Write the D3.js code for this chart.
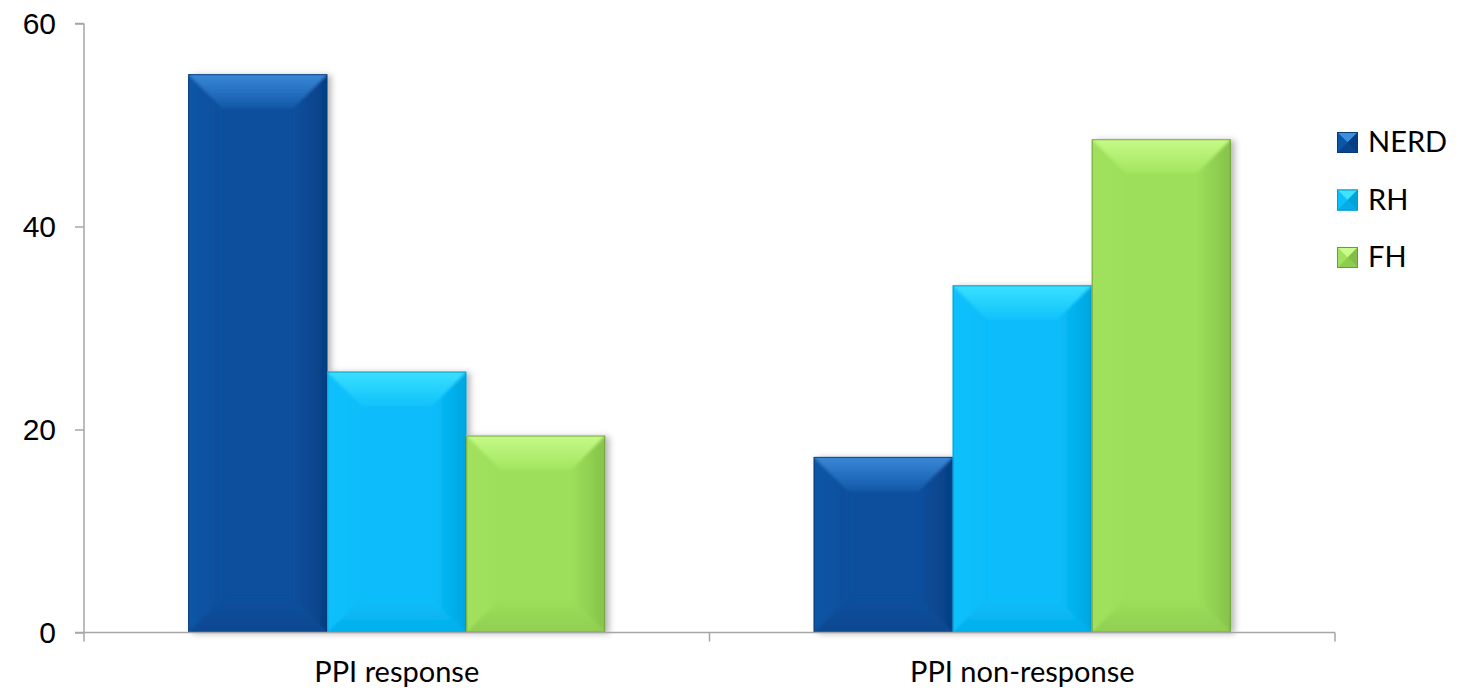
<!DOCTYPE html>
<html>
<head>
<meta charset="utf-8">
<script src="https://cdn.jsdelivr.net/npm/d3@7"></script>
<style>
  html, body { margin: 0; padding: 0; background: #fff; }
  svg { display: block; }
</style>
</head>
<body>
<svg id="chart" width="1468" height="690"></svg>
<script>
// Categories, series and values
const categories = ["PPI response", "PPI non-response"];
const seriesNames = ["NERD", "RH", "FH"];
const nerdValues = [55.0, 17.3];
const rhValues = [25.7, 34.2];
const fhValues = [19.4, 48.6];
const yTickValues = [0, 20, 40, 60];

const valuesBySeries = { NERD: nerdValues, RH: rhValues, FH: fhValues };

// Bevelled fill palette per series
const palette = {
  NERD: { main: "#0a4f9d", top: "#3f8ddc", topEnd: "#1259aa", left: "#0c56a7", right: "#053e82", bottom: "#08478f", stroke: "#0a3a72" },
  RH:   { main: "#08bdfb", top: "#3fe3ff", topEnd: "#10c3fb", left: "#0bc1fb", right: "#02a3db", bottom: "#05ade8", stroke: "#0a98c8" },
  FH:   { main: "#9ddf5a", top: "#c9fd8b", topEnd: "#a3e560", left: "#a1e15d", right: "#83bf48", bottom: "#8ecc4f", stroke: "#6c9a3b" }
};

const svg = d3.select("#chart");
const plot = { left: 84, right: 1335, top: 23.5, bottom: 632.5 };

const x0 = d3.scaleBand().domain(categories).range([plot.left, plot.right]).padding(0);
const x1 = d3.scaleBand().domain(seriesNames).range([0, x0.bandwidth()])
  .paddingInner(0).paddingOuter(0.75);
const y = d3.scaleLinear().domain([0, 60]).range([plot.bottom, plot.top]);

const defs = svg.append("defs");
const shadow = defs.append("filter").attr("id", "barShadow")
  .attr("x", "-20%").attr("y", "-20%").attr("width", "150%").attr("height", "140%");
shadow.append("feDropShadow").attr("dx", 4).attr("dy", 1)
  .attr("stdDeviation", 3).attr("flood-color", "#000").attr("flood-opacity", 0.28);
const soften = defs.append("filter").attr("id", "soften")
  .attr("x", "-10%").attr("y", "-10%").attr("width", "120%").attr("height", "120%");
soften.append("feGaussianBlur").attr("stdDeviation", 1.6);

seriesNames.forEach(s => {
  const c = palette[s];
  const gTop = defs.append("linearGradient").attr("id", "top-" + s)
    .attr("x1", 0).attr("y1", 0).attr("x2", 0).attr("y2", 1);
  gTop.append("stop").attr("offset", "0%").attr("stop-color", c.top);
  gTop.append("stop").attr("offset", "100%").attr("stop-color", c.topEnd);
  const gRight = defs.append("linearGradient").attr("id", "right-" + s)
    .attr("x1", 0).attr("y1", 0).attr("x2", 1).attr("y2", 0);
  gRight.append("stop").attr("offset", "0%").attr("stop-color", c.main);
  gRight.append("stop").attr("offset", "100%").attr("stop-color", c.right);
  const gLeft = defs.append("linearGradient").attr("id", "left-" + s)
    .attr("x1", 0).attr("y1", 0).attr("x2", 1).attr("y2", 0);
  gLeft.append("stop").attr("offset", "0%").attr("stop-color", c.left);
  gLeft.append("stop").attr("offset", "100%").attr("stop-color", c.main);
  const gBottom = defs.append("linearGradient").attr("id", "bottom-" + s)
    .attr("x1", 0).attr("y1", 0).attr("x2", 0).attr("y2", 1);
  gBottom.append("stop").attr("offset", "0%").attr("stop-color", c.main);
  gBottom.append("stop").attr("offset", "100%").attr("stop-color", c.bottom);
});

let clipCount = 0;
// Draws a bevelled box (rectangle with four sloped edge facets)
function bevelBox(g, s, x, yTop, w, h, bev) {
  const c = palette[s];
  const b = Math.min(bev, w / 2, h / 2);
  const x2 = x + w, y2 = yTop + h;
  const id = "barclip-" + (clipCount++);
  defs.append("clipPath").attr("id", id)
    .append("rect").attr("x", x).attr("y", yTop).attr("width", w).attr("height", h);
  const box = g.append("g");
  box.append("rect").attr("x", x).attr("y", yTop).attr("width", w).attr("height", h)
    .attr("fill", c.main).attr("filter", "url(#barShadow)");
  const facets = box.append("g").attr("clip-path", `url(#${id})`).append("g").attr("filter", "url(#soften)");
  const pts = a => a.map(p => p.join(",")).join(" ");
  facets.append("polygon").attr("points", pts([[x - 4, yTop - 4], [x + b, yTop + b], [x + b, y2 - b], [x - 4, y2 + 4]]))
    .attr("fill", `url(#left-${s})`);
  facets.append("polygon").attr("points", pts([[x2 + 4, yTop - 4], [x2 - b, yTop + b], [x2 - b, y2 - b], [x2 + 4, y2 + 4]]))
    .attr("fill", `url(#right-${s})`);
  facets.append("polygon").attr("points", pts([[x - 4, y2 + 4], [x + b, y2 - b], [x2 - b, y2 - b], [x2 + 4, y2 + 4]]))
    .attr("fill", `url(#bottom-${s})`);
  facets.append("polygon").attr("points", pts([[x - 4, yTop - 4], [x + b, yTop + b], [x2 - b, yTop + b], [x2 + 4, yTop - 4]]))
    .attr("fill", `url(#top-${s})`);
  box.append("rect").attr("x", x + 0.5).attr("y", yTop + 0.5).attr("width", w - 1).attr("height", h - 1)
    .attr("fill", "none").attr("stroke", c.stroke).attr("stroke-width", 1).attr("stroke-opacity", 0.8);
}

// Bars
const barsLayer = svg.append("g");
categories.forEach((cat, i) => {
  seriesNames.forEach(s => {
    const v = valuesBySeries[s][i];
    const bx = x0(cat) + x1(s);
    const top = y(v);
    bevelBox(barsLayer, s, bx, top, x1.bandwidth(), y(0) - top, 34);
  });
});

// Axes
const axisColor = "#a6a6a6";
const yAxis = svg.append("g").attr("transform", `translate(${plot.left},0)`)
  .call(d3.axisLeft(y).tickValues(yTickValues).tickSize(9).tickPadding(19).tickFormat(d3.format("d")));
yAxis.select(".domain").attr("d", `M0,${plot.top}H-9M0,${plot.top}V${plot.bottom + 9}`);
yAxis.selectAll("path, line").attr("stroke", axisColor).attr("stroke-width", 1.5);
yAxis.selectAll("text").attr("font-family", "'Liberation Sans', Arial, sans-serif")
  .attr("font-size", 30).attr("fill", "#000");

const xAxis = svg.append("g").attr("transform", `translate(0,${plot.bottom})`)
  .call(d3.axisBottom(x0).tickSize(0).tickPadding(29));
xAxis.select(".domain").attr("d", `M${plot.left - 9},0H${plot.right}`);
xAxis.selectAll("path").attr("stroke", axisColor).attr("stroke-width", 1.5);
xAxis.selectAll("text").attr("font-family", "Lato, 'Open Sans', sans-serif")
  .attr("font-size", 29).attr("fill", "#000");
// Category boundary ticks
xAxis.selectAll(".boundary").data([categories[0], categories[1]])
  .enter().append("line").attr("class", "boundary")
  .attr("x1", d => x0(d) + x0.bandwidth()).attr("x2", d => x0(d) + x0.bandwidth())
  .attr("y1", 0).attr("y2", 9).attr("stroke", axisColor).attr("stroke-width", 1.5);

// Legend
const legend = svg.append("g").attr("transform", "translate(1337,132)");
seriesNames.forEach((s, i) => {
  const g = legend.append("g").attr("transform", `translate(0,${i * 57.5})`);
  const c = palette[s];
  const sz = 21, h = sz / 2;
  const pts = a => a.map(p => p.join(",")).join(" ");
  g.append("rect").attr("width", sz).attr("height", sz).attr("fill", c.main);
  g.append("polygon").attr("points", pts([[0, 0], [h, h], [sz, 0]])).attr("fill", c.top);
  g.append("polygon").attr("points", pts([[sz, 0], [h, h], [sz, sz]])).attr("fill", c.right);
  g.append("polygon").attr("points", pts([[0, sz], [h, h], [sz, sz]])).attr("fill", c.bottom);
  g.append("polygon").attr("points", pts([[0, 0], [h, h], [0, sz]])).attr("fill", c.left);
  g.append("rect").attr("x", 0.5).attr("y", 0.5).attr("width", sz - 1).attr("height", sz - 1)
    .attr("fill", "none").attr("stroke", c.stroke).attr("stroke-width", 1);
  g.append("text").attr("x", 31).attr("y", sz - 1).text(s)
    .attr("font-family", "Lato, 'Open Sans', sans-serif").attr("font-size", 29).attr("fill", "#000");
});
</script>
</body>
</html>
